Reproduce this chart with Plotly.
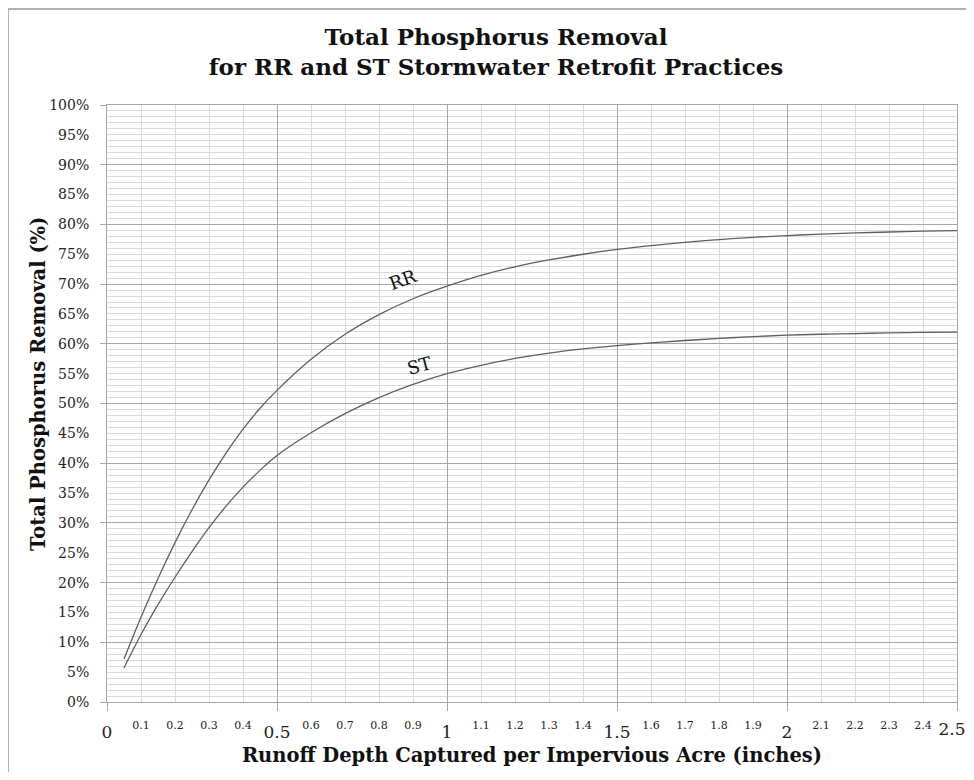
import plotly.graph_objects as go

# ---- data ----
depth = [0.05, 0.1, 0.15, 0.2, 0.25, 0.3, 0.35, 0.4, 0.45, 0.5, 0.6, 0.7, 0.8, 0.9, 1.0,
         1.1, 1.2, 1.3, 1.4, 1.5, 1.6, 1.7, 1.8, 1.9, 2.0, 2.1, 2.2, 2.3, 2.4, 2.5]
rr_removal = [7.2, 14.2, 20.7, 26.7, 32.2, 37.2, 41.7, 45.7, 49.2, 52.2, 57.4, 61.6, 64.9,
              67.55, 69.65, 71.45, 72.9, 74.05, 75.0, 75.8, 76.45, 77.0, 77.45, 77.83,
              78.13, 78.37, 78.57, 78.73, 78.86, 78.96]
st_removal = [5.7, 11.3, 16.3, 20.9, 25.2, 29.2, 32.8, 36.0, 38.8, 41.3, 45.1, 48.3, 51.0,
              53.2, 55.0, 56.4, 57.55, 58.45, 59.15, 59.7, 60.15, 60.55, 60.9, 61.2,
              61.45, 61.6, 61.72, 61.82, 61.9, 61.97]

x_major_vals = [0, 0.5, 1, 1.5, 2, 2.5]
x_major_text = ["0", "0.5", "1", "1.5", "2", ""]
x_end_vals = [2.5]
x_end_text = ["2.5"]
x_minor_vals = [round(i / 10, 1) for i in range(1, 25) if i % 5 != 0]
x_minor_text = [str(v) for v in x_minor_vals]

y_major_vals = list(range(0, 101, 10))
y_major_text = [f"{v}%" for v in y_major_vals]
y_half_vals = list(range(5, 100, 10))
y_half_text = [f"{v}%" for v in y_half_vals]
y_minor_vals = [v for v in range(0, 101) if v % 10 != 0]

title_text = "Total Phosphorus Removal<br>for RR and ST Stormwater Retrofit Practices"
x_title = "Runoff Depth Captured per Impervious Acre (inches)"
y_title = "Total Phosphorus Removal (%)"

SERIF = "DejaVu Serif"
DARK_GRID = "#a6a6a6"
LIGHT_GRID = "#dadada"
LINE_COLOR = "#5f5f5f"

FIG_W, FIG_H = 958, 764
M_L, M_R, M_T, M_B = 99, 9, 97, 70
PLOT_W = FIG_W - M_L - M_R
PLOT_H = FIG_H - M_T - M_B

fig = go.Figure()
fig.add_trace(go.Scatter(x=depth, y=rr_removal, mode="lines", name="RR",
                         line=dict(color=LINE_COLOR, width=1.3, shape="spline", smoothing=1.0),
                         xaxis="x", yaxis="y"))
fig.add_trace(go.Scatter(x=depth, y=st_removal, mode="lines", name="ST",
                         line=dict(color=LINE_COLOR, width=1.3, shape="spline", smoothing=1.0),
                         xaxis="x", yaxis="y"))
# invisible traces to activate overlay axes
fig.add_trace(go.Scatter(x=[None], y=[None], xaxis="x2", yaxis="y", showlegend=False, hoverinfo="skip"))
fig.add_trace(go.Scatter(x=[None], y=[None], xaxis="x3", yaxis="y", showlegend=False, hoverinfo="skip"))
fig.add_trace(go.Scatter(x=[None], y=[None], xaxis="x", yaxis="y2", showlegend=False, hoverinfo="skip"))

fig.update_layout(
    width=FIG_W, height=FIG_H,
    margin=dict(l=M_L, r=M_R, t=M_T, b=M_B, autoexpand=False),
    paper_bgcolor="white", plot_bgcolor="white",
    showlegend=False,
    font=dict(family=SERIF, color="#222"),
    title=dict(text=title_text, x=488 / FIG_W, xref="container", xanchor="center",
               y=1 - 37 / FIG_H, yref="container", yanchor="top",
               font=dict(family=SERIF, size=23, color="#111", weight="bold")),
    xaxis=dict(range=[0, 2.5], tickvals=x_major_vals, ticktext=x_major_text,
               tickfont=dict(family=SERIF, size=17, color="#222"),
               ticks="outside", ticklen=8, tickcolor=DARK_GRID, ticklabelstandoff=7,
               showgrid=True, gridcolor=DARK_GRID, gridwidth=1,
               showline=True, linecolor=DARK_GRID, mirror=True, zeroline=False,
               automargin=False,
               minor=dict(tickvals=x_minor_vals, showgrid=True, gridcolor=LIGHT_GRID,
                          gridwidth=1, ticks=""),
               title=dict(text=x_title, standoff=6,
                          font=dict(family=SERIF, size=19.5, color="#111", weight="bold"))),
    xaxis2=dict(range=[0, 2.5], overlaying="x", side="bottom", anchor="y",
                tickvals=x_minor_vals, ticktext=x_minor_text,
                tickfont=dict(family=SERIF, size=11, color="#222"),
                ticks="", ticklabelstandoff=15, automargin=False,
                showgrid=False, zeroline=False, showline=False),
    xaxis3=dict(range=[0, 2.5], overlaying="x", side="bottom", anchor="y",
                tickvals=x_end_vals, ticktext=x_end_text,
                tickfont=dict(family=SERIF, size=17, color="#222"),
                ticks="", ticklabelstandoff=15, ticklabelshift=-5,
                ticklabeloverflow="allow", automargin=False,
                showgrid=False, zeroline=False, showline=False),
    yaxis=dict(range=[0, 100], tickvals=y_major_vals, ticktext=y_major_text,
               tickfont=dict(family=SERIF, size=14, color="#222"),
               ticks="outside", ticklen=6, tickcolor=DARK_GRID, ticklabelstandoff=8,
               showgrid=True, gridcolor=DARK_GRID, gridwidth=1,
               showline=True, linecolor=DARK_GRID, mirror=True, zeroline=False,
               automargin=False,
               minor=dict(tickvals=y_minor_vals, showgrid=True, gridcolor=LIGHT_GRID,
                          gridwidth=1, ticks="")),
    yaxis2=dict(range=[0, 100], overlaying="y", side="left", anchor="x",
                tickvals=y_half_vals, ticktext=y_half_text,
                tickfont=dict(family=SERIF, size=14, color="#222"),
                ticks="outside", ticklen=6, tickcolor="rgba(0,0,0,0)", ticklabelstandoff=8,
                automargin=False,
                showgrid=False, zeroline=False, showline=False),
)

# y-axis title placed as rotated text (sits a little above the plot centre in the reference)
fig.add_annotation(x=(30 - M_L) / PLOT_W, y=(FIG_H - M_B - 376) / PLOT_H,
                   xref="paper", yref="paper", text=f"<b>{y_title}</b>", showarrow=False,
                   textangle=-90, xanchor="center", yanchor="middle",
                   font=dict(family=SERIF, size=19.5, color="#111"))

fig.add_annotation(x=0.87, y=70.7, xref="x", yref="y", text="RR", showarrow=False,
                   textangle=-20, font=dict(family=SERIF, size=18, color="#111"))
fig.add_annotation(x=0.918, y=56.4, xref="x", yref="y", text="ST", showarrow=False,
                   textangle=-15, font=dict(family=SERIF, size=18, color="#111"))

# chart-area border (left and top edges visible in the reference)
bx = (0 - M_L) / PLOT_W
by_top = 1 + (M_T - 1) / PLOT_H
by_bot = -(M_B + 10) / PLOT_H
fig.add_shape(type="line", xref="paper", yref="paper", x0=bx, x1=bx, y0=by_bot, y1=by_top,
              line=dict(color="#b0b0b0", width=2), layer="below")
fig.add_shape(type="line", xref="paper", yref="paper", x0=bx, x1=(FIG_W - M_L + 10) / PLOT_W,
              y0=by_top, y1=by_top, line=dict(color="#b0b0b0", width=2), layer="below")

fig.write_html("out.html")
